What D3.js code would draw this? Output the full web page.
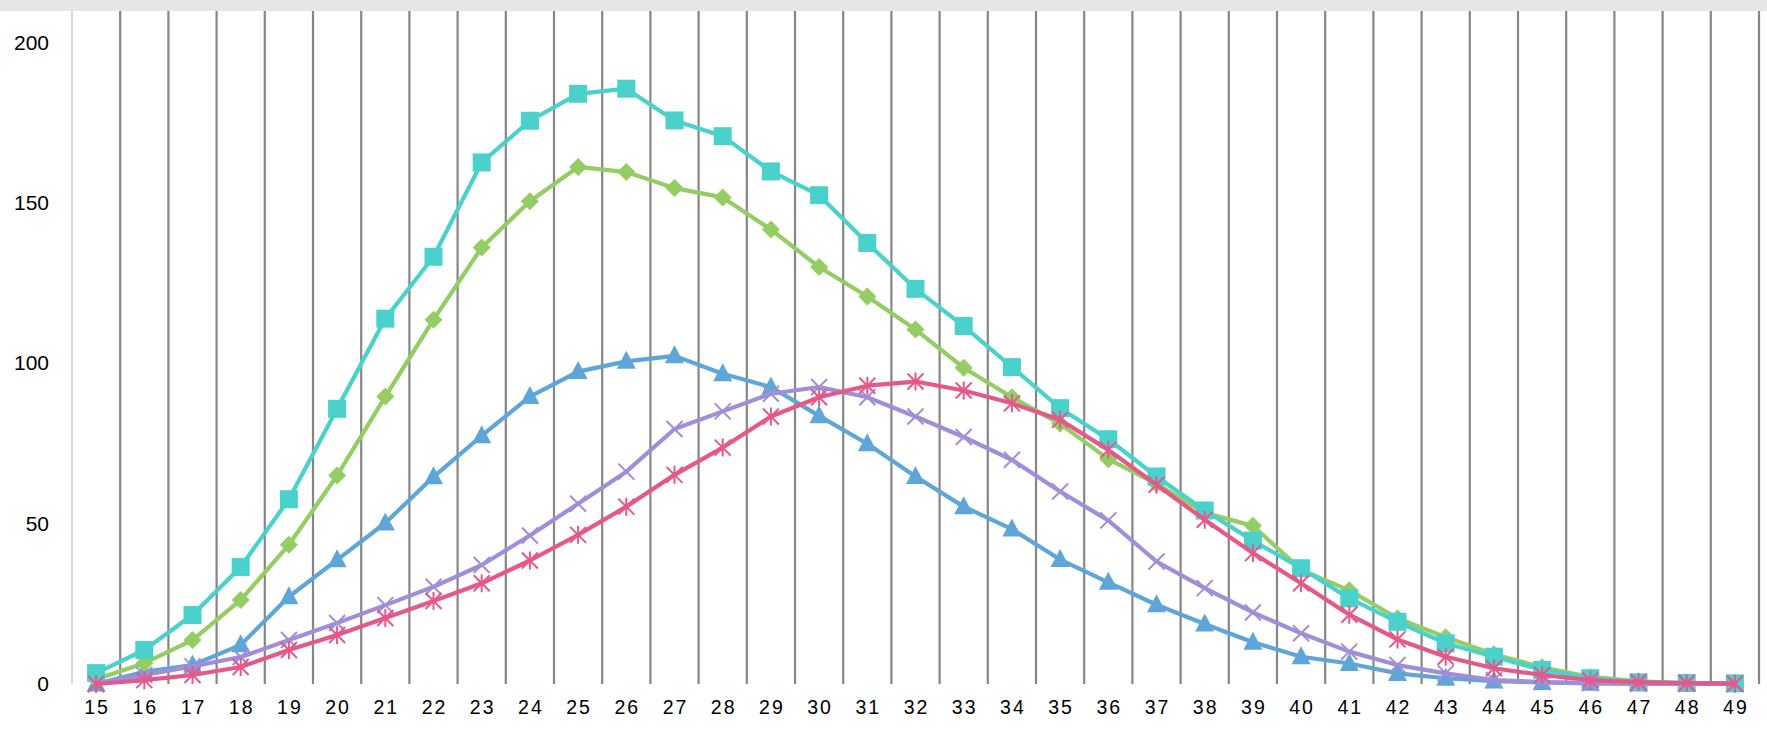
<!DOCTYPE html>
<html><head><meta charset="utf-8">
<script src="https://cdn.jsdelivr.net/npm/d3@7"></script>
<style>html,body{margin:0;padding:0;background:#fff;overflow:hidden}</style>
</head><body><svg id="c" width="1767" height="735"></svg>
<script>
const categories = d3.range(15, 50).map(String);
const yTicks = [0, 50, 100, 150, 200];
const seriesBlue   = [0,3.8,5.9,12.2,27.2,38.7,50.2,64.6,77.4,89.6,97.4,100.6,102.3,96.7,92.6,83.6,74.9,64.7,55.3,48.3,38.8,31.7,24.7,18.7,13,8.5,6.4,3.3,1.8,0.9,0.5,0.2,0.1,0,0];
const seriesGreen  = [1.5,6.5,13.7,26.2,43.4,65,89.6,113.6,136.1,150.5,161.2,159.6,154.6,151.7,141.7,130,120.8,110.5,98.6,89.4,81.1,70.1,62.4,53.4,49.3,35.6,29.2,20.5,14.6,9.3,5.2,2.2,0.8,0.3,0.1];
const seriesTeal   = [3.4,10.6,21.5,36.5,57.6,85.8,113.9,133.2,162.6,175.6,184,185.6,175.7,170.8,159.8,152.4,137.5,123.2,111.6,98.8,86,76.3,64.7,54.1,44.7,36.1,26.7,19.4,12.7,8.5,4.4,1.8,0.5,0.3,0.2];
const seriesPurple = [0,2.8,5.5,8.4,13.7,19,24.6,30.3,37.1,46.3,56.2,66.2,79.5,85,90.5,92.6,89.4,83.4,77,69.9,60,51,38.2,29.9,22.3,15.8,10.1,5.9,3.3,1.2,0.6,0.3,0.1,0.1,0.1];
const seriesPink   = [0,1.2,2.8,5.3,10.6,15.3,20.6,25.9,31.4,38.5,46.5,55.3,65.2,73.7,83.4,89.4,93,94.3,91.5,87.5,82.4,73,62.1,51.2,40.8,31.4,21.6,13.9,8.5,4.9,2.8,1.2,0.6,0.3,0.1];

const series = [
  {values: seriesBlue,   color: "#5ea5d8", marker: "triangle"},
  {values: seriesGreen,  color: "#93cd63", marker: "diamond"},
  {values: seriesTeal,   color: "#4bd1cc", marker: "square"},
  {values: seriesPurple, color: "#a18ed8", marker: "x"},
  {values: seriesPink,   color: "#e4598a", marker: "star"}
];

const svg = d3.select("#c");
const pLeft = 72, pRight = 1759, pTop = 11, pBottom = 684;

svg.append("rect").attr("x",0).attr("y",0).attr("width",1767).attr("height",11).attr("fill","#e6e6e6");

const x = d3.scaleBand().domain(categories).range([pLeft, pRight]).padding(0);
const y = d3.scaleLinear().domain([0, 200]).range([pBottom, 42.5]);

// vertical gridlines
const gx = svg.append("g");
categories.forEach((c) => {
  const xv = x(c) + x.bandwidth();
  gx.append("line").attr("x1", xv).attr("x2", xv).attr("y1", pTop).attr("y2", pBottom)
    .attr("stroke", "#868686").attr("stroke-width", 2.2);
});
svg.append("line").attr("x1", pLeft).attr("x2", pLeft).attr("y1", pTop).attr("y2", pBottom)
  .attr("stroke", "#d9d9d9").attr("stroke-width", 2);

// y axis labels
const yAxis = d3.axisLeft(y).tickValues(yTicks).tickSize(0).tickPadding(0);
const ya = svg.append("g").attr("transform", "translate(49,0)").call(yAxis);
ya.select(".domain").remove();
ya.selectAll("text").attr("font-family", "Liberation Sans, Arial, sans-serif").attr("font-size", 21).attr("fill", "#000");

// x axis labels
const xAxis = d3.axisBottom(x).tickSize(0).tickPadding(0);
const xa = svg.append("g").attr("transform", "translate(0,700)").call(xAxis);
xa.select(".domain").remove();
xa.selectAll("text").attr("font-family", "Liberation Sans, Arial, sans-serif").attr("font-size", 19.5)
  .attr("fill", "#000").attr("letter-spacing", "2px").attr("dx", "1px");

const cx = c => x(c) + x.bandwidth() / 2;
const line = d3.line().x((d, i) => cx(categories[i])).y(d => y(d));

series.forEach(s => {
  const g = svg.append("g");
  g.append("path").attr("d", line(s.values)).attr("fill", "none")
    .attr("stroke", s.color).attr("stroke-width", 4.2).attr("stroke-linejoin", "round");
  s.values.forEach((v, i) => {
    const px = cx(categories[i]), py = y(v);
    if (s.marker === "square") {
      g.append("rect").attr("x", px - 9).attr("y", py - 9).attr("width", 18).attr("height", 18).attr("fill", s.color);
    } else if (s.marker === "diamond") {
      g.append("path").attr("d", `M${px},${py-9}L${px+9},${py}L${px},${py+9}L${px-9},${py}Z`).attr("fill", s.color);
    } else if (s.marker === "triangle") {
      g.append("path").attr("d", `M${px},${py-10.5}L${px+9.5},${py+7.5}L${px-9.5},${py+7.5}Z`).attr("fill", s.color);
    } else if (s.marker === "x") {
      const r = 8;
      g.append("path").attr("d", `M${px-r},${py-r}L${px+r},${py+r}M${px-r},${py+r}L${px+r},${py-r}`)
        .attr("stroke", s.color).attr("stroke-width", 2).attr("fill", "none");
    } else if (s.marker === "star") {
      const r = 8;
      g.append("path").attr("d", `M${px-r},${py-r}L${px+r},${py+r}M${px-r},${py+r}L${px+r},${py-r}M${px},${py-r-1}L${px},${py+r+1}`)
        .attr("stroke", s.color).attr("stroke-width", 2).attr("fill", "none");
    }
  });
});
</script></body></html>
